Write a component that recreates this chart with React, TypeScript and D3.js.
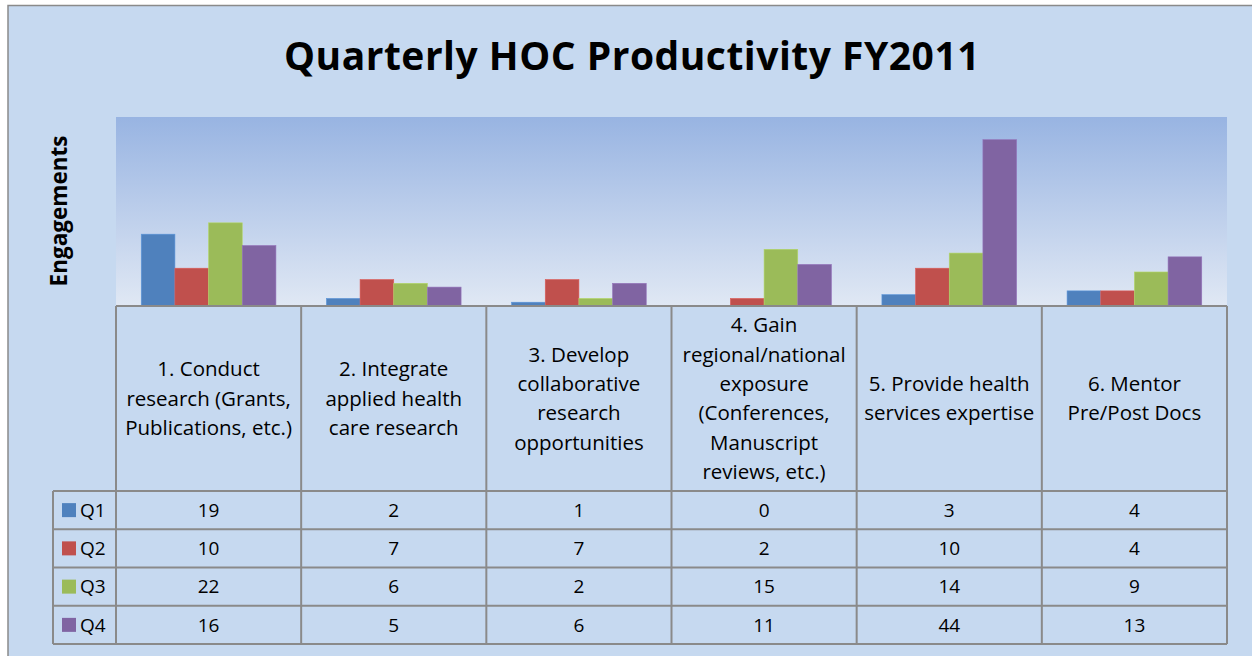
import React from 'react';
import * as d3 from 'd3';

const categories = [
  ['1. Conduct', 'research (Grants,', 'Publications, etc.)'],
  ['2. Integrate', 'applied health', 'care research'],
  ['3. Develop', 'collaborative', 'research', 'opportunities'],
  ['4. Gain', 'regional/national', 'exposure', '(Conferences,', 'Manuscript', 'reviews, etc.)'],
  ['5. Provide health', 'services expertise'],
  ['6. Mentor', 'Pre/Post Docs'],
];
const seriesNames = ['Q1', 'Q2', 'Q3', 'Q4'];
const q1 = [19, 2, 1, 0, 3, 4];
const q2 = [10, 7, 7, 2, 10, 4];
const q3 = [22, 6, 2, 15, 14, 9];
const q4 = [16, 5, 6, 11, 44, 13];
const seriesValues = [q1, q2, q3, q4];
const colors = ['#4f81bd', '#c0504d', '#9bbb59', '#8064a2'];

const W = 1252;
const H = 656;
const plot = { left: 116, right: 1227, top: 117, bottom: 306 };
const headerBottom = 491;
const rowH = 38.25;
const legendLeft = 53;
const font = '"Open Sans", Lato, sans-serif';
const lineColor = '#8a8a8a';

export default function App() {
  const catIdx = categories.map((_, i) => String(i));
  const x = d3.scaleBand().domain(catIdx).range([plot.left, plot.right]).padding(0);
  const xInner = d3
    .scaleBand()
    .domain(seriesNames)
    .range([0, x.bandwidth()])
    .paddingInner(0)
    .paddingOuter(0.75);
  const y = d3.scaleLinear().domain([0, 50]).range([plot.bottom, plot.top]);

  const rowY = d3
    .scaleBand()
    .domain(seriesNames)
    .range([headerBottom, headerBottom + rowH * seriesNames.length]);
  const tableBottom = headerBottom + rowH * seriesNames.length;
  const headerMid = (plot.bottom + headerBottom) / 2;
  const lineH = 29.4;

  return (
    <svg width={W} height={H} style={{ position: 'absolute', left: 0, top: 0 }}>
      <defs>
        <linearGradient id="plotBg" x1="0" y1="0" x2="0" y2="1">
          <stop offset="0%" stopColor="#98b4e2" />
          <stop offset="100%" stopColor="#e0e8f4" />
        </linearGradient>
      </defs>
      <rect x={0} y={0} width={W} height={H} fill="#ffffff" />
      <rect x={8} y={5.5} width={W + 10} height={H + 10} fill="#c6d9f0" stroke="#8a8a8a" strokeWidth={1.5} />

      <text
        x={632}
        y={70}
        textAnchor="middle"
        fontFamily={font}
        fontWeight="bold"
        fontSize={39}
        letterSpacing={0.5}
        fill="#000"
      >
        Quarterly HOC Productivity FY2011
      </text>

      <text
        transform={`translate(67,211) rotate(-90)`}
        textAnchor="middle"
        fontFamily={font}
        fontWeight="bold"
        fontSize={22.5}
        fill="#000"
      >
        Engagements
      </text>

      <rect
        x={plot.left}
        y={plot.top}
        width={plot.right - plot.left}
        height={plot.bottom - plot.top}
        fill="url(#plotBg)"
      />

      {seriesValues.map((vals, si) =>
        vals.map((v, ci) => (
          <rect
            key={`${si}-${ci}`}
            x={(x(String(ci)) as number) + (xInner(seriesNames[si]) as number)}
            y={y(v)}
            width={xInner.bandwidth()}
            height={plot.bottom - y(v)}
            fill={colors[si]}
            stroke={d3.color(colors[si])!.brighter(0.4).toString()}
            strokeWidth={0.6}
          />
        ))
      )}

      {/* table grid */}
      <g stroke={lineColor} strokeWidth={2} fill="none">
        <line x1={plot.left} x2={plot.right} y1={plot.bottom} y2={plot.bottom} />
        {catIdx.concat(['end']).map((c, i) => {
          const xx = i < categories.length ? (x(c) as number) : plot.right;
          return <line key={c} x1={xx} x2={xx} y1={plot.bottom} y2={tableBottom} />;
        })}
        <line x1={legendLeft} x2={legendLeft} y1={headerBottom} y2={tableBottom} />
        {seriesNames.map((s) => (
          <line key={s} x1={legendLeft} x2={plot.right} y1={rowY(s)} y2={rowY(s)} />
        ))}
        <line x1={legendLeft} x2={plot.right} y1={tableBottom} y2={tableBottom} />
      </g>

      {/* header labels */}
      {categories.map((lines, ci) => {
        const cx = (x(String(ci)) as number) + x.bandwidth() / 2;
        const start = headerMid - ((lines.length - 1) * lineH) / 2;
        return (
          <text
            key={ci}
            textAnchor="middle"
            fontFamily={font}
            fontSize={20.5}
            fill="#000"
          >
            {lines.map((l, li) => (
              <tspan key={li} x={cx} y={start + li * lineH} dy="0.35em">
                {l}
              </tspan>
            ))}
          </text>
        );
      })}

      {/* legend keys and values */}
      {seriesNames.map((s, si) => {
        const cy = (rowY(s) as number) + rowY.bandwidth() / 2;
        return (
          <g key={s}>
            <rect x={62} y={cy - 7} width={14} height={14} fill={colors[si]} />
            <text x={80} y={cy} dy="0.35em" fontFamily={font} fontSize={19} fill="#000">
              {s}
            </text>
            {seriesValues[si].map((v, ci) => (
              <text
                key={ci}
                x={(x(String(ci)) as number) + x.bandwidth() / 2}
                y={cy}
                dy="0.35em"
                textAnchor="middle"
                fontFamily={font}
                fontSize={19}
                fill="#000"
              >
                {v}
              </text>
            ))}
          </g>
        );
      })}
    </svg>
  );
}
